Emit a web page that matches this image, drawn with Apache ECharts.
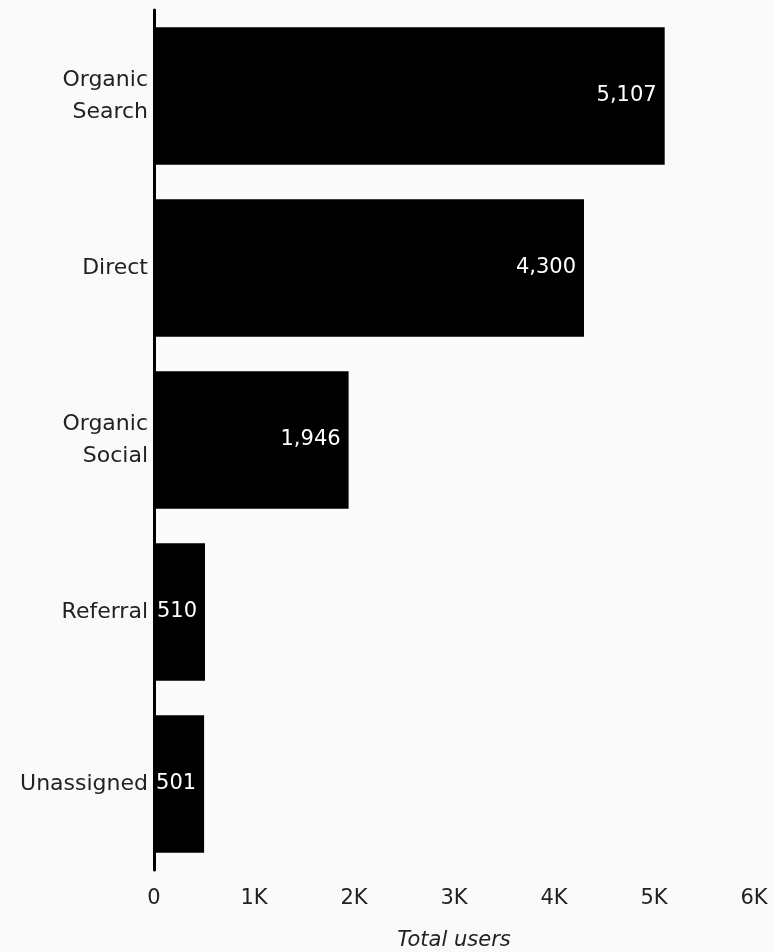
<!DOCTYPE html>
<html>
<head>
<meta charset="utf-8">
<script src="https://cdn.jsdelivr.net/npm/echarts@6/dist/echarts.min.js"></script>
<style>
  html, body { margin: 0; padding: 0; background: #fafafa; }
  #chart { width: 774px; height: 952px; }
</style>
</head>
<body>
<div id="chart"></div>
<script>
var categories = ["Organic\nSearch", "Direct", "Organic\nSocial", "Referral", "Unassigned"];
var users = [5107, 4300, 1946, 510, 501];
var tickLabels = ["0", "1K", "2K", "3K", "4K", "5K", "6K"];

var font = "DejaVu Sans";
var myChart = echarts.init(document.getElementById("chart"));
myChart.setOption({
  backgroundColor: "#fafafa",
  textStyle: { fontFamily: font },
  grid: { left: 154, right: 20, top: 10, bottom: 82, containLabel: false, outerBoundsMode: "none" },
  xAxis: {
    type: "value",
    min: 0,
    max: 6000,
    interval: 1000,
    name: "Total users",
    nameLocation: "middle",
    nameGap: 60,
    nameTextStyle: { fontSize: 21, fontStyle: "italic", color: "#222", fontFamily: font },
    axisLine: { show: false },
    axisTick: { show: false },
    splitLine: { show: false },
    axisLabel: {
      fontSize: 21,
      color: "#222",
      margin: 18,
      formatter: function (v) { return tickLabels[v / 1000]; }
    }
  },
  yAxis: {
    type: "category",
    data: categories,
    inverse: true,
    axisLine: { show: true, lineStyle: { color: "#000", width: 3 } },
    axisTick: { show: false },
    axisLabel: { fontSize: 22, color: "#222", margin: 6, lineHeight: 32, align: "right" }
  },
  series: [{
    type: "bar",
    data: users,
    barCategoryGap: "20%",
    itemStyle: { color: "#000" },
    label: {
      show: true,
      position: "insideRight",
      distance: 8,
      color: "#fff",
      fontSize: 21,
      formatter: function (p) { return p.value.toLocaleString("en-US"); }
    }
  }]
});
</script>
</body>
</html>
